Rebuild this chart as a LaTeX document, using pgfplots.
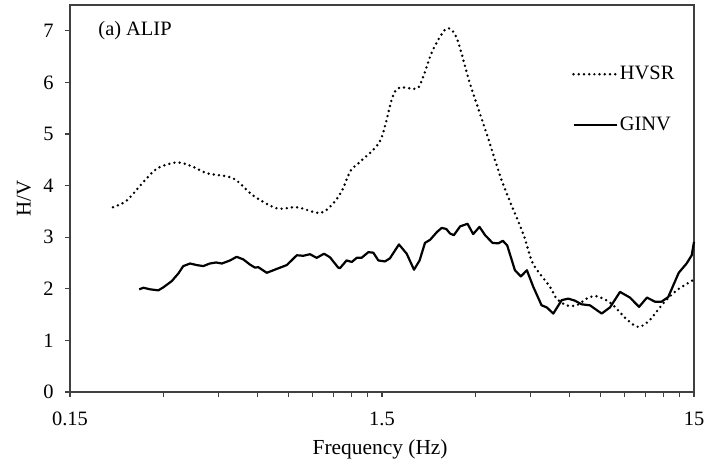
\documentclass[border=0pt]{standalone}
\usepackage{pgfplots}
\pgfplotsset{compat=1.18}
\usepackage{fontspec}
\setmainfont{Liberation Serif}
\begin{document}
\begin{tikzpicture}
\begin{axis}[
  scale only axis,
  width=624bp, height=387bp,
  xmode=log,
  xmin=0.15, xmax=15, ymin=0, ymax=7.5,
  xtick={0.15,1.5,15}, xticklabels={0.15,1.5,15},
  minor xtick={0.3,0.45,0.6,0.75,0.9,1.05,1.2,1.35,3,4.5,6,7.5,9,10.5,12,13.5},
  ytick={0,1,2,3,4,5,6,7},
  tick align=outside, tick pos=left,
  major tick length=5bp, minor tick length=5bp,
  axis line style={draw=black!75, line width=1.3bp},
  every tick/.style={draw=black!75, line width=1.1bp},
  /pgf/number format/assume math mode=true,
  tick label style={font=\fontsize{20.5}{24}\selectfont},
  xticklabel style={yshift=-11bp},
  yticklabel style={xshift=-8bp},
  xlabel={Frequency (Hz)}, ylabel={H/V},
  every axis x label/.style={at={(axis description cs:0.497,-0.147)}, anchor=center, font=\fontsize{21.5}{25}\selectfont},
  every axis y label/.style={at={(axis description cs:-0.0737,0.5)}, rotate=90, anchor=center, font=\fontsize{21}{25}\selectfont},
  legend style={draw=none, fill=none, at={(axis description cs:0.8045,0.85)}, anchor=north west,
    inner sep=0pt, row sep=29bp, font=\fontsize{20.5}{24}\selectfont,
    nodes={inner sep=2bp, text height=14bp, text depth=4bp}},
  legend cell align=left,
  legend image code/.code={\draw[#1] (0bp,0bp) -- (43bp,0bp);},
  clip=false,
]
\addplot[black, line width=2.7bp, line cap=round, dash pattern=on 0bp off 5.2bp, smooth] coordinates {
(0.206,3.58) (0.228,3.71) (0.257,4.06) (0.285,4.33) (0.330,4.45) (0.370,4.37)
(0.412,4.24) (0.50,4.14) (0.579,3.81) (0.69,3.56) (0.80,3.58) (0.95,3.47)
(1.045,3.65) (1.12,3.92) (1.19,4.29) (1.28,4.47) (1.48,4.87) (1.62,5.71)
(1.71,5.90) (1.94,5.88) (2.03,6.10) (2.18,6.62) (2.41,7.04) (2.60,6.87)
(2.87,5.98) (3.25,5.00) (3.66,4.04) (4.25,3.07) (4.57,2.49) (5.18,2.04)
(5.44,1.81) (5.86,1.68) (6.31,1.68) (6.79,1.81) (7.22,1.86) (7.68,1.81)
(8.27,1.68) (9.12,1.41) (9.95,1.26) (10.8,1.39) (11.96,1.72) (13.2,1.97) (15,2.18)
};
\addlegendentry{HVSR}
\addplot[black, line width=2.2bp, line join=round] coordinates {
(0.250,1.99) (0.258,2.02) (0.271,1.99) (0.288,1.97) (0.299,2.03) (0.318,2.15)
(0.334,2.30) (0.346,2.44) (0.364,2.49) (0.382,2.46) (0.401,2.44) (0.421,2.49)
(0.441,2.51) (0.460,2.49) (0.489,2.55) (0.513,2.62) (0.539,2.57) (0.566,2.47)
(0.588,2.41) (0.602,2.42) (0.641,2.31) (0.673,2.36) (0.707,2.41) (0.743,2.46)
(0.80,2.65) (0.839,2.64) (0.882,2.67) (0.926,2.60) (0.978,2.68) (1.022,2.61)
(1.086,2.41) (1.10,2.40) (1.155,2.55) (1.20,2.52) (1.245,2.60) (1.29,2.60)
(1.356,2.71) (1.407,2.70) (1.46,2.55) (1.533,2.53) (1.59,2.59) (1.70,2.86)
(1.80,2.68) (1.90,2.37) (1.98,2.55) (2.06,2.89) (2.14,2.95) (2.25,3.10)
(2.33,3.18) (2.41,3.16) (2.48,3.07) (2.55,3.04) (2.67,3.21) (2.82,3.26)
(2.94,3.06) (3.08,3.20) (3.21,3.04) (3.39,2.89) (3.54,2.88) (3.66,2.93)
(3.78,2.84) (4.00,2.36) (4.18,2.24) (4.37,2.36) (4.58,2.04) (4.87,1.68)
(5.06,1.64) (5.31,1.52) (5.65,1.78) (5.93,1.81) (6.23,1.77) (6.54,1.70)
(6.96,1.68) (7.59,1.52) (8.07,1.64) (8.69,1.94) (9.35,1.83) (10.0,1.65)
(10.6,1.83) (11.25,1.75) (11.8,1.75) (12.4,1.84) (13.4,2.31) (14.2,2.49)
(14.75,2.65) (15,2.91)
};
\addlegendentry{GINV}
\node[anchor=west, font=\fontsize{20.5}{24}\selectfont] at (rel axis cs:0.040,0.935) {(a) ALIP};
\coordinate (sw) at (rel axis cs:0,0);
\coordinate (ne) at (rel axis cs:1,1);
\end{axis}
\pgfresetboundingbox
\path[use as bounding box] ([xshift=-70bp,yshift=-73bp]sw) rectangle ([xshift=14bp,yshift=5bp]ne);
\end{tikzpicture}
\end{document}
